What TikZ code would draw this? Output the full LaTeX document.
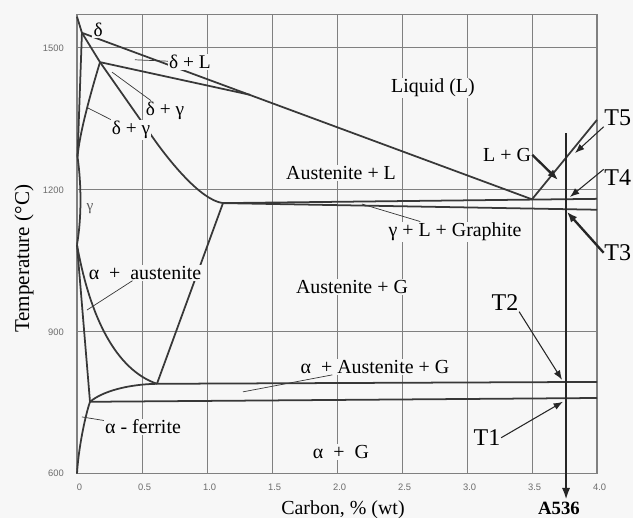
\documentclass[tikz,border=0pt]{standalone}
\usepackage{fontspec}
\setmainfont{Liberation Serif}
\newfontfamily\ticksf{Liberation Sans}
\usetikzlibrary{arrows.meta}
\definecolor{paper}{gray}{0.97}
\definecolor{phasegray}{gray}{0.22}
\definecolor{gridgray}{gray}{0.5}

\begin{document}
\begin{tikzpicture}[x=3.9cm, y=0.014198cm,
    phase/.style={phasegray, line width=1.5pt, line join=round},
    gridline/.style={gridgray, line width=0.8pt},
    leader/.style={phasegray, line width=0.6pt},
    pointer/.style={-{Latex[length=8pt,width=6pt]}, black!85, line width=0.9pt},
    bigpointer/.style={-{Latex[length=9pt,width=7pt]}, black!85, line width=2pt},
    region/.style={fill=paper, inner sep=1pt, font=\fontsize{17}{17}\selectfont},
    small/.style={fill=paper, inner sep=1pt, font=\fontsize{16.5}{16.5}\selectfont},
    tlabel/.style={fill=paper, inner sep=0.5pt, font=\fontsize{20.5}{20.5}\selectfont},
    tick/.style={gray!85!black, font=\ticksf\fontsize{8}{8}\selectfont}]
    % page and fixed margins
    \useasboundingbox[fill=paper] (-0.5923,506.9) rectangle (4.2769,1601.4);

    % grid and frame (x = carbon %, y = temperature in C)
    \foreach \c in {0.5,1,...,3.5}
        \draw[gridline] (\c,600) -- (\c,1570);
    \foreach \t in {900,1200,1500}
        \draw[gridline] (0,\t) -- (4,\t);
    \draw[gridline, line width=1.1pt] (0,600) rectangle (4,1570);

    % axis numbers
    \foreach \t in {600,900,1200,1500}
        \node[tick, anchor=east] (ty\t) at (-0.07,\t) {\t};
    \foreach \c/\lab [count=\i] in {0/0,0.5/0.5,1/1.0,1.5/1.5,2/2.0,2.5/2.5,3/3.0,3.5/3.5,4/4.0}
        \node[tick] (tx\i) at (\c+0.02,572) {\lab};
    \node[font=\fontsize{17}{17}\selectfont] (xtitle) at (2.046,524) {Carbon, \% (wt)};
    \node[font=\fontsize{18}{18}\selectfont, rotate=90] (ytitle) at (-0.408,1054) {Temperature (°C)};

    % liquidus down to the eutectic, then graphite liquidus
    \draw[phase] (0,1566) -- (0.038,1532) -- (3.5,1180) -- (4,1348);
    % delta solidus and peritectic line
    \draw[phase] (0.038,1532) -- (0.177,1470) -- (1.33,1401);
    % gamma solidus
    \draw[phase] (0.177,1470) -- (0.585,1310) .. controls (0.705,1263) and (0.95,1178) .. (1.123,1172);
    % delta + gamma lens
    \draw[phase] (0.038,1532) -- (0.004,1270);
    \draw[phase] (0.177,1470) .. controls (0.1,1400) and (0.02,1320) .. (0.004,1270);
    \draw[phase] (0.004,1270) .. controls (0.035,1210) and (0.035,1140) .. (0,1084);
    % eutectic lines (graphite and cementite)
    \draw[phase] (1.123,1172) -- (4,1181);
    \draw[phase] (1.123,1172) -- (4,1158);
    % Acm and A3
    \draw[phase] (1.123,1172) -- (0.615,790);
    \draw[phase] (0,1084) .. controls (0.1,930) and (0.3,820) .. (0.615,790);
    % alpha boundary and eutectoid lines
    \draw[phase] (0,1084) -- (0.1,752);
    \draw[phase] (0.615,790) -- (4,794);
    \draw[phase] (0.1,752) -- (4,760);
    \draw[phase] (0.1,752) .. controls (0.2,775) and (0.4,789) .. (0.615,790);
    \draw[phase] (0.1,752) .. controls (0.06,720) and (0.01,650) .. (0,600);

    % points the leaders and arrows go to
    \coordinate (pdl) at (0.446,1475);
    \coordinate (pdgu) at (0.269,1449);
    \coordinate (pdgl) at (0.085,1373);
    \coordinate (pglg) at (2.192,1170);
    \coordinate (paa) at (0.077,946);
    \coordinate (paag) at (1.277,773);
    \coordinate (paf) at (0.038,720);
    \coordinate (plg) at (3.7,1221);
    \coordinate (p5) at (3.831,1278);
    \coordinate (p4) at (3.792,1185);
    \coordinate (p3) at (3.769,1153.5);
    \coordinate (p2) at (3.731,798.5);
    \coordinate (p1) at (3.738,752);
    \coordinate (a536top) at (3.762,1320);
    \coordinate (a536end) at (3.762,545);

    % A536 composition line
    \draw[-{Latex[length=10pt,width=7pt]}, black!85, line width=1.8pt] (a536top) -- (a536end);

    % region labels
    \node[small] (delta) at (0.162,1538) {δ};
    \node[small] (dl) at (0.869,1470) {δ + L};
    \node[small] (dgu) at (0.677,1367) {δ + γ};
    \node[small] (dgl) at (0.415,1327) {δ + γ};
    \node[region] (liq) at (2.738,1415) {Liquid (L)};
    \node[region] (lg) at (3.308,1274) {L + G};
    \node[region] (al) at (2.031,1236) {Austenite + L};
    \node[region] (glg) at (2.908,1111) {γ + L + Graphite};
    \node[region] (ag) at (2.115,995) {Austenite + G};
    \node[region] (aa) at (0.523,1025) {α \ + \ austenite};
    \node[font=\fontsize{13}{13}\selectfont, gray!70!black] (gam) at (0.1,1160) {γ};
    \node[region] (aag) at (2.292,826) {α \ + Austenite + G};
    \node[region] (af) at (0.508,699) {α - ferrite};
    \node[region] (alg) at (2.03,646) {α \ + \ G};
    \node[font=\bfseries\fontsize{16}{16}\selectfont] (a536) at (3.708,526) {A536};

    % leaders
    \draw[leader] (pdl) -- (dl);
    \draw[leader] (pdgu) -- (dgu);
    \draw[leader] (pdgl) -- (dgl);
    \draw[leader] (pglg) -- (glg);
    \draw[leader] (paa) -- (aa);
    \draw[leader] (paag) -- (aag);
    \draw[leader] (paf) -- (af);

    % temperature marks
    \node[tlabel] (t1) at (3.154,676) {T1};
    \node[tlabel] (t2) at (3.292,961) {T2};
    \node[tlabel, anchor=east] (t3) at (4.269,1067) {T3};
    \node[tlabel, anchor=east] (t4) at (4.269,1225) {T4};
    \node[tlabel, anchor=east] (t5) at (4.269,1352) {T5};
    \draw[bigpointer] (lg.east) -- (plg);
    \draw[pointer] (t5.south west) -- (p5);
    \draw[pointer] (t4.north west) -- (p4);
    \draw[bigpointer] (t3.west) -- (p3);
    \draw[pointer] (t2.south east) -- (p2);
    \draw[pointer] (t1.east) -- (p1);
\end{tikzpicture}
\end{document}
